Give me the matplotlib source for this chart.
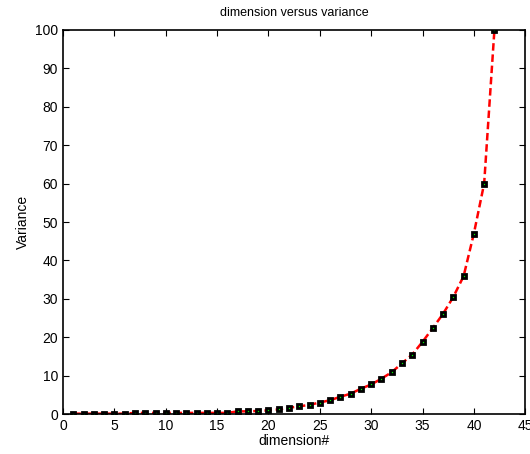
import matplotlib
matplotlib.use('Agg')
import matplotlib.pyplot as plt
import numpy as np

# dimension index and variance
dims = np.arange(1, 43)
variance = [0.1, 0.1, 0.1, 0.1, 0.1, 0.1, 0.3, 0.3, 0.3, 0.3,
            0.3, 0.3, 0.3, 0.3, 0.3, 0.3, 0.7, 0.7, 0.8, 0.95,
            1.2, 1.65, 2.0, 2.4, 3.0, 3.6, 4.5, 5.3, 6.6, 7.7,
            9.2, 10.9, 13.2, 15.5, 18.8, 22.4, 26.1, 30.5, 35.9, 47.0,
            60.0, 100.0]

plt.rcParams['font.family'] = ['Liberation Sans', 'DejaVu Sans']

fig = plt.figure(figsize=(5.3, 4.54), dpi=100)
ax = fig.add_axes([0.119, 0.088, 0.872, 0.846])

ax.plot(dims, variance, color='red', linestyle='--', linewidth=1.8,
        dashes=(3, 1.5),
        marker='s', markersize=3.2, markerfacecolor='#00ee00',
        markeredgecolor='black', markeredgewidth=2.0)

ax.set_xlim(0, 45)
ax.set_ylim(0, 100)
ax.set_xticks(range(0, 46, 5))
ax.set_yticks(range(0, 101, 10))
ax.tick_params(direction='in', top=True, right=True, labelsize=10, length=4)
for s in ax.spines.values():
    s.set_linewidth(1.2)

ax.set_title('dimension versus variance', fontsize=9, pad=10)
ax.set_xlabel('dimension#', fontsize=10, labelpad=1)
ax.set_ylabel('Variance', fontsize=10, labelpad=4)

fig.savefig('out.png', dpi=100)
